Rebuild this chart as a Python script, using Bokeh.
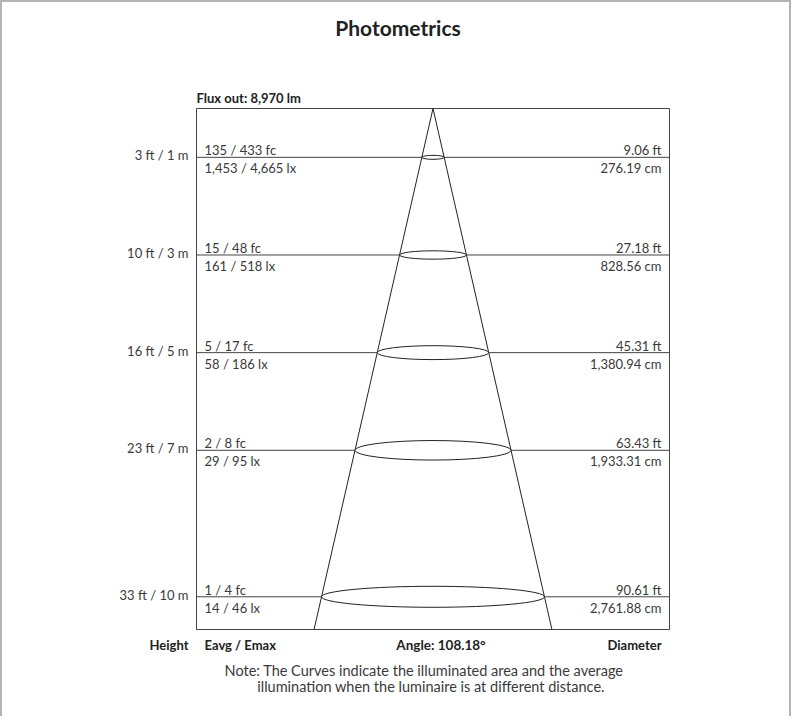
from bokeh.plotting import figure
from bokeh.models import Range1d, ColumnDataSource
from bokeh.core.properties import value
from bokeh.embed import file_html
from bokeh.resources import INLINE

# ---------------- data ----------------
heights_m = [1, 3, 5, 7, 10]
height_labels = ["3 ft / 1 m", "10 ft / 3 m", "16 ft / 5 m", "23 ft / 7 m", "33 ft / 10 m"]
fc_labels = ["135 / 433 fc", "15 / 48 fc", "5 / 17 fc", "2 / 8 fc", "1 / 4 fc"]
lx_labels = ["1,453 / 4,665 lx", "161 / 518 lx", "58 / 186 lx", "29 / 95 lx", "14 / 46 lx"]
diam_ft = [9.06, 27.18, 45.31, 63.43, 90.61]
diam_cm = [276.19, 828.56, 1380.94, 1933.31, 2761.88]
flux_lm = "8,970"
beam_angle = 108.18
max_depth_m = 10.67      # drawn depth of the box (35 ft)
half_span_cm = 2930      # half width of the drawing box

# ---------------- layout (pixels) ----------------
W, H = 791, 716
BOX_L, BOX_R, BOX_T, BOX_B = 194, 124, 106, 89   # margins around the drawing box
FONT = value("Lato")
TXT = "#3a3a3a"
DARK = "#222222"

px_per_cm = (W - BOX_L - BOX_R) / (2 * half_span_cm)
px_per_m = (H - BOX_T - BOX_B) / max_depth_m
x_lo = -half_span_cm - BOX_L / px_per_cm
x_hi = half_span_cm + BOX_R / px_per_cm
y_top = 0 - BOX_T / px_per_m
y_bot = max_depth_m + BOX_B / px_per_m

p = figure(width=W, height=H, output_backend="svg", toolbar_location=None,
           x_axis_location=None, y_axis_location=None,
           x_range=Range1d(x_lo, x_hi), y_range=Range1d(y_bot, y_top),
           min_border=0, background_fill_color="white", border_fill_color="white")
p.styles = {"border-top": "2px solid #b4b4b4", "border-left": "2px solid #b4b4b4",
            "border-right": "2px solid #b4b4b4"}
p.outline_line_color = None
p.grid.visible = False

n = len(heights_m)
# horizontal level lines
p.segment(x0=[-half_span_cm] * n, x1=[half_span_cm] * n,
          y0=heights_m, y1=heights_m, line_color="#444444", line_width=1)

# drawing box
p.quad(left=[-half_span_cm], right=[half_span_cm], top=[0], bottom=[max_depth_m],
       fill_color=None, line_color="#444444", line_width=1)

# beam cone from apex down to bottom of box
slope = (diam_cm[-1] / 2) / heights_m[-1]
half_b = slope * max_depth_m
p.segment(x0=[0, 0], y0=[0, 0], x1=[-half_b, half_b], y1=[max_depth_m, max_depth_m],
          line_color=DARK, line_width=1)

# illuminated ellipses
ell_h = [min(max(0.125 * d * px_per_cm, 4), 21) for d in diam_cm]
src = ColumnDataSource(dict(
    x=[0] * n, y=heights_m, w=diam_cm, h=ell_h,
    hl=height_labels, fc=fc_labels, lx=lx_labels,
    dft=[f"{v:.2f} ft" for v in diam_ft],
    dcm=[f"{v:,.2f} cm" for v in diam_cm],
    left=[-half_span_cm] * n, right=[half_span_cm] * n))
p.ellipse(x="x", y="y", width="w", height="h", height_units="screen", source=src,
          fill_color="white", line_color=DARK, line_width=1)

common = dict(source=src, text_font=FONT, text_font_size="13px", text_color=TXT,
              text_baseline="middle")
p.text(x="left", y="y", text="hl", x_offset=-8, y_offset=-2, text_align="right", **common)
p.text(x="left", y="y", text="fc", x_offset=8, y_offset=-7, text_align="left", **common)
p.text(x="left", y="y", text="lx", x_offset=8, y_offset=11, text_align="left", **common)
p.text(x="right", y="y", text="dft", x_offset=-8, y_offset=-7, text_align="right", **common)
p.text(x="right", y="y", text="dcm", x_offset=-8, y_offset=11, text_align="right", **common)


def lab(text, x, y, xo, yo, align, size="13px", bold=True, color=DARK):
    p.text(x=[x], y=[y], text=[text], x_offset=xo, y_offset=yo,
           text_align=align, text_baseline="middle",
           text_font=FONT, text_font_size=size,
           text_font_style="bold" if bold else "normal", text_color=color)


# title and header
lab("Photometrics", 0, 0, -35, -81, "center", size="21px")
lab(f"Flux out: {flux_lm} lm", -half_span_cm, 0, 0, -11, "left")

# bottom captions
lab("Height", -half_span_cm, max_depth_m, -8, 15, "right")
lab("Eavg / Emax", -half_span_cm, max_depth_m, 8, 15, "left")
lab(f"Angle: {beam_angle:.2f}°", 0, max_depth_m, 8, 15, "center", size="13.5px")
lab("Diameter", half_span_cm, max_depth_m, -8, 15, "right")

# note
lab("Note: The Curves indicate the illuminated area and the average", 0, max_depth_m,
    -9, 41, "center", size="14.5px", bold=False, color=TXT)
lab("illumination when the luminaire is at different distance.", 0, max_depth_m,
    -2, 57, "center", size="14.5px", bold=False, color=TXT)

open("out.html", "w").write(file_html(p, INLINE))
